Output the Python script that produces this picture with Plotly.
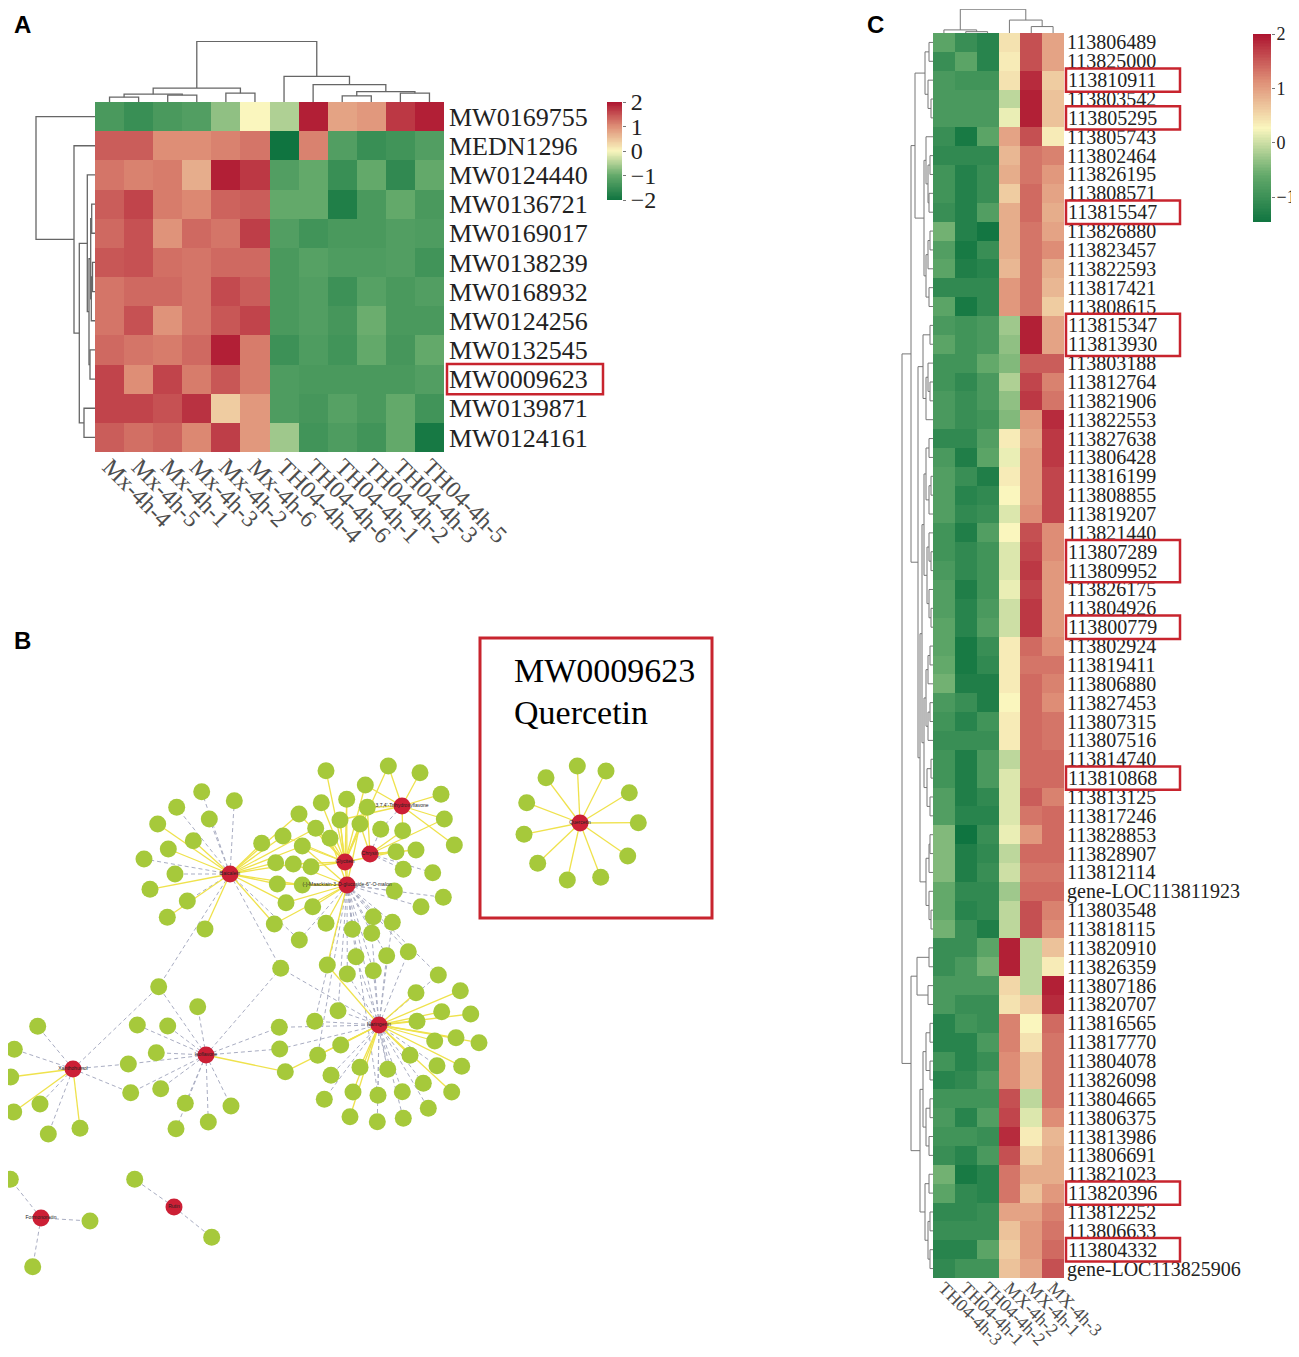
import plotly.graph_objects as go

# page body keeps its default 8px margin, so the figure is placed from (8, 8)
PAGE_PAD = 8
W, H = 1299 - PAGE_PAD, 1357 - PAGE_PAD


def fx(px):
    return (px - PAGE_PAD) / W


def fy(py):
    return 1 - (py - PAGE_PAD) / H


serif = "Liberation Serif"
box_red = "#c8242e"
heat_scale = [
    [0.0, "#0f7440"],
    [0.25, "#63a96a"],
    [0.5, "#faf6be"],
    [0.75, "#de8e76"],
    [1.0, "#ad132f"],
]

# ------------------------------
# Panel A data
# ------------------------------
a_cols = ["Mx-4h-4", "Mx-4h-5", "Mx-4h-1", "Mx-4h-3", "Mx-4h-2", "Mx-4h-6",
          "TH04-4h-4", "TH04-4h-6", "TH04-4h-1", "TH04-4h-2", "TH04-4h-3", "TH04-4h-5"]
a_rows = ["MW0169755", "MEDN1296", "MW0124440", "MW0136721", "MW0169017", "MW0138239",
          "MW0168932", "MW0124256", "MW0132545", "MW0009623", "MW0139871", "MW0124161"]
a_values = [
    [-1.3, -1.5, -1.3, -1.2, -0.7, 0.0, -0.5, 1.9, 0.8, 0.9, 1.7, 1.9],
    [1.4, 1.4, 1.0, 1.0, 1.1, 1.2, -2.0, 1.1, -1.2, -1.5, -1.4, -1.2],
    [1.2, 1.1, 1.15, 0.7, 1.9, 1.7, -1.2, -1.0, -1.5, -1.0, -1.6, -1.0],
    [1.4, 1.6, 1.15, 1.05, 1.35, 1.4, -1.0, -1.0, -1.8, -1.3, -1.0, -1.3],
    [1.3, 1.5, 0.95, 1.3, 1.2, 1.65, -1.2, -1.4, -1.3, -1.3, -1.2, -1.25],
    [1.45, 1.5, 1.25, 1.2, 1.3, 1.3, -1.3, -1.15, -1.25, -1.25, -1.2, -1.4],
    [1.2, 1.3, 1.3, 1.2, 1.55, 1.4, -1.3, -1.2, -1.45, -1.15, -1.3, -1.2],
    [1.2, 1.5, 0.95, 1.2, 1.45, 1.6, -1.3, -1.2, -1.35, -0.95, -1.3, -1.3],
    [1.3, 1.2, 1.15, 1.3, 1.9, 1.15, -1.45, -1.25, -1.4, -1.0, -1.35, -1.0],
    [1.6, 1.0, 1.6, 1.15, 1.45, 1.15, -1.25, -1.3, -1.3, -1.3, -1.3, -1.2],
    [1.6, 1.6, 1.5, 1.75, 0.4, 0.9, -1.25, -1.35, -1.15, -1.3, -1.0, -1.4],
    [1.4, 1.25, 1.35, 1.05, 1.65, 0.9, -0.6, -1.4, -1.25, -1.4, -1.0, -1.9],
]
a_zmin, a_zmax = -2.0, 2.0
a_bar_ticks = [-2, -1, 0, 1, 2]
a_highlight = ["MW0009623"]

# dendrograms: leaf = index, node = (left, right, height)
a_col_tree = (
    ((((0, 1, 4.7), (2, 3, 6.7), 7.7), (4, 5, 8.7), 13.7),
     (6, (7, ((8, 9, 6.0), (10, 11, 8.7), 10.3), 17.0), 25.3),
     59.7)
)
a_r37 = ((3, 4, 3.3), ((5, 6, 2.5), 7, 3.7), 4.3)
a_r39 = (a_r37, (8, 9, 5.0), 6.0)
a_row_tree = (0, (1, ((2, a_r39, 7.7), (10, 11, 11.0), 15.7), 21.0), 59.0)

# ------------------------------
# Panel C data
# ------------------------------
c_cols = ["TH04-4h-3", "TH04-4h-1", "TH04-4h-2", "MX-4h-2", "MX-4h-1", "MX-4h-3"]
c_rows = [
    "113806489", "113825000", "113810911", "113803542", "113805295", "113805743",
    "113802464", "113826195", "113808571", "113815547", "113826880", "113823457",
    "113822593", "113817421", "113808615", "113815347", "113813930", "113803188",
    "113812764", "113821906", "113822553", "113827638", "113806428", "113816199",
    "113808855", "113819207", "113821440", "113807289", "113809952", "113826175",
    "113804926", "113800779", "113802924", "113819411", "113806880", "113827453",
    "113807315", "113807516", "113814740", "113810868", "113813125", "113817246",
    "113828853", "113828907", "113812114", "gene-LOC113811923", "113803548", "113818115",
    "113820910", "113826359", "113807186", "113820707", "113816565", "113817770",
    "113804078", "113826098", "113804665", "113806375", "113813986", "113806691",
    "113821023", "113820396", "113812252", "113806633", "113804332", "gene-LOC113825906",
]
c_values = [
    [-0.68, -1.03, -1.2, 0.44, 1.57, 0.96],
    [-1.03, -0.68, -1.2, 0.36, 1.57, 0.96],
    [-0.85, -0.94, -0.94, 0.44, 1.83, 0.62],
    [-0.85, -0.85, -0.85, -0.08, 1.91, 0.7],
    [-0.85, -0.85, -0.85, 0.18, 1.91, 0.7],
    [-1.03, -1.37, -0.68, 0.96, 1.57, 0.36],
    [-1.11, -1.11, -1.11, 0.79, 1.31, 1.22],
    [-0.94, -1.24, -1.03, 0.88, 1.31, 1.05],
    [-0.94, -1.24, -1.03, 0.62, 1.39, 0.96],
    [-1.03, -1.24, -0.77, 0.88, 1.39, 0.88],
    [-0.51, -1.24, -1.42, 0.88, 1.31, 0.96],
    [-0.77, -1.37, -1.03, 0.88, 1.31, 1.14],
    [-0.68, -1.29, -1.2, 0.79, 1.31, 0.88],
    [-1.11, -1.11, -1.11, 1.05, 1.31, 0.79],
    [-0.68, -1.37, -1.11, 1.05, 1.31, 0.62],
    [-0.85, -0.94, -0.85, -0.25, 1.91, 0.96],
    [-0.68, -0.94, -0.85, -0.34, 1.91, 0.96],
    [-0.94, -0.94, -0.6, -0.42, 1.48, 1.48],
    [-0.94, -1.11, -0.85, -0.16, 1.65, 1.22],
    [-0.85, -1.03, -0.85, -0.34, 1.74, 1.31],
    [-0.85, -1.03, -0.94, -0.42, 1.05, 1.83],
    [-1.11, -1.11, -0.77, 0.36, 0.96, 1.74],
    [-0.85, -1.29, -0.68, 0.18, 1.05, 1.74],
    [-0.77, -1.03, -1.29, 0.36, 1.05, 1.65],
    [-0.77, -1.2, -1.11, 0.27, 1.05, 1.65],
    [-0.77, -1.11, -1.03, 0.1, 1.14, 1.65],
    [-0.94, -1.29, -0.77, 0.27, 1.57, 1.14],
    [-0.94, -1.11, -0.94, 0.1, 1.65, 1.14],
    [-0.85, -1.11, -0.94, 0.1, 1.74, 1.05],
    [-0.77, -1.29, -0.94, 0.18, 1.65, 1.05],
    [-0.77, -1.2, -0.85, 0.01, 1.74, 1.05],
    [-0.68, -1.2, -0.77, 0.01, 1.74, 1.05],
    [-0.68, -1.37, -1.03, 0.36, 1.39, 1.14],
    [-0.6, -1.37, -1.11, 0.36, 1.31, 1.31],
    [-0.51, -1.29, -1.29, 0.36, 1.39, 1.22],
    [-0.85, -1.03, -1.29, 0.27, 1.39, 1.14],
    [-0.94, -1.2, -0.94, 0.36, 1.39, 1.31],
    [-1.03, -1.03, -1.03, 0.36, 1.39, 1.31],
    [-0.94, -1.29, -0.85, -0.08, 1.39, 1.39],
    [-0.94, -1.29, -0.85, 0.1, 1.39, 1.39],
    [-0.77, -1.29, -1.11, 0.1, 1.48, 1.22],
    [-0.77, -1.2, -1.2, 0.1, 1.31, 1.39],
    [-0.42, -1.46, -1.03, 0.18, 1.05, 1.39],
    [-0.42, -1.29, -1.11, -0.08, 1.39, 1.39],
    [-0.42, -1.29, -1.03, 0.01, 1.31, 1.31],
    [-0.6, -1.11, -1.11, -0.25, 1.39, 1.39],
    [-0.6, -1.2, -1.11, -0.08, 1.57, 1.22],
    [-0.51, -1.03, -1.29, -0.08, 1.57, 1.14],
    [-1.03, -1.03, -0.68, 1.91, -0.08, 0.7],
    [-1.03, -0.85, -0.51, 1.91, -0.08, 0.36],
    [-0.85, -0.85, -0.85, 0.53, -0.08, 1.91],
    [-0.85, -1.03, -1.03, 0.44, 0.62, 1.83],
    [-1.2, -0.94, -1.03, 1.22, 0.27, 1.39],
    [-1.2, -1.2, -0.85, 1.22, 0.44, 1.31],
    [-0.94, -1.2, -1.03, 1.14, 0.7, 1.31],
    [-1.2, -1.11, -0.85, 1.14, 0.7, 1.31],
    [-0.94, -0.94, -0.94, 1.57, -0.08, 1.31],
    [-0.85, -1.2, -0.77, 1.65, 0.1, 1.14],
    [-0.94, -0.94, -1.03, 1.83, 0.36, 0.79],
    [-1.03, -1.2, -0.85, 1.57, 0.62, 0.88],
    [-0.51, -1.37, -1.2, 1.31, 0.88, 0.88],
    [-0.68, -1.11, -1.2, 1.31, 0.7, 1.05],
    [-1.11, -1.11, -1.03, 0.96, 0.96, 1.22],
    [-1.03, -1.03, -1.03, 0.7, 1.05, 1.31],
    [-1.2, -1.2, -0.68, 0.62, 1.05, 1.39],
    [-1.11, -0.94, -0.94, 0.7, 0.96, 1.57],
]
c_zmin, c_zmax = -1.46, 2.0
c_bar_ticks = [-1, 0, 1, 2]
# boxed gene labels: (first row, last row)
c_boxes = [(2, 2), (4, 4), (9, 9), (15, 16), (27, 28), (31, 31), (39, 39), (61, 61), (64, 64)]

c_col_tree = ((0, (1, 2, 1.7), 4.0), (3, (4, 5, 8.3), 16.7), 30.7)

c_t1 = ((0, 1, 4), (2, (3, 4, 2), 5), 8)
c_t2 = ((5, ((6, 7, 3), (8, 9, 4), 5), 7), (((10, 11, 3), 12, 5), (13, 14, 4), 7), 9)
c_t3 = ((15, 16, 3), ((17, (18, 19, 3), 5), 20, 7), 10)
c_t5 = ((21, 22, 4), ((23, 24, 2), 25, 4), 7)
c_t6 = ((26, (27, 28, 2), 4), (29, (30, 31, 2), 4), 6)
c_t7 = (((32, 33, 3), 34, 5), ((35, 36, 3), 37, 5), 7)
c_t8 = ((38, 39, 2), (40, 41, 3), 6)
c_t9 = (((42, 43, 3), 44, 4), (45, (46, 47, 2), 4), 7)
c_top = ((c_t1, c_t2, 18), (c_t3, (((c_t5, c_t6, 9), (c_t7, c_t8, 9), 11), c_t9, 13), 15), 22)
c_b1 = ((48, 49, 4), (50, 51, 5), 16)
c_b2 = (((52, 53, 3), (54, 55, 3), 7), ((56, 57, 3), (58, 59, 4), 7), 10)
c_b3 = ((60, 61, 4), ((62, 63, 3), (64, 65, 3), 5), 8)
c_row_tree = (c_top, (c_b1, (c_b2, c_b3, 13), 22), 31)

# ------------------------------
# Panel B data (network, positions in panel pixels)
# ------------------------------
hub_names = ["Baicalein", "Glycitein", "Chrysin", "3,7,4'-Trihydroxyflavone",
             "(-)-Maackiain-3-O-glucoside-6''-O-malon", "Naringenin", "Isoflavone",
             "Xanthohumol", "Formononetin", "Rutin", "Quercetin"]
hub_x = [230, 345, 370, 402, 347, 379, 206, 73, 41, 174, 580]
hub_y = [874, 862, 854, 806, 885, 1025, 1055, 1069, 1218, 1207, 823]

leaf_x = [201.7, 234.3, 176.7, 209.3, 157.7, 193.3, 168.3, 144, 175, 150, 187.3, 167.3, 205,
          388.3, 420, 441, 444.3, 365.3, 367.3, 402.7, 454.3, 380.7,
          326, 346.7, 321.3, 299, 340, 360, 315.7, 330, 283, 302.3, 311, 293.3, 261.7, 275.7,
          396, 416, 403.3, 432.7,
          302.3, 277.3, 286, 312.7, 274.3, 326, 352.3, 371.7, 373.3, 392.3, 394.3, 421, 443.3,
          299.3, 356, 386.7, 408.3, 327.3, 347.3, 373.3, 438.3,
          460.3, 416, 338, 441.7, 470.7, 314.7, 417, 279.3, 456, 434.7, 479, 340.7, 317.7, 410,
          437, 461.7, 360, 387.7, 331, 423.3, 451.7, 353, 378, 402.3, 324.3, 428.3, 350, 377.3, 403.3,
          197.7, 137.3, 167.7, 156.3, 160.7, 185.3, 231, 208.3, 176, 279.7, 285.3,
          37.7, 14.3, 10.7, 40, 13.7, 48.3, 80, 128.3, 130.7,
          158.7, 280.7,
          10.3, 90, 32.7,
          134.7, 211.7,
          577.3, 606, 546, 629.3, 526.7, 638.3, 524, 627.7, 537.7, 567.3, 600.7]
leaf_y = [791.7, 800.7, 807.3, 819, 824, 840.7, 849, 859, 874, 889.3, 901, 917.3, 929,
          766, 772.7, 794.3, 819, 785, 807.3, 830.7, 845, 829.3,
          770.7, 799.3, 802.7, 814, 820, 824, 828.3, 838.3, 836, 846, 866.7, 864, 843.3, 862.7,
          851.7, 850, 869.3, 872.7,
          885, 884, 902.7, 906.7, 924, 923.3, 929.3, 933.3, 916.7, 922.3, 891, 906.7, 897.3,
          940, 956.7, 955.7, 951.7, 965, 974, 970.7, 975,
          990.7, 992.7, 1010.7, 1011.7, 1014, 1021.3, 1021.3, 1027.3, 1037.7, 1041, 1042.7, 1045,
          1055.3, 1055.3, 1065.7, 1066.3, 1067.3, 1069.3, 1075.3, 1083.3, 1092, 1092, 1095.3,
          1091.7, 1099.3, 1108.3, 1116.7, 1121.7, 1118.3,
          1006.7, 1025, 1026, 1052.7, 1088.7, 1103.3, 1106, 1122, 1128.7, 1049, 1071.7,
          1026.3, 1049.3, 1077, 1104, 1112, 1134, 1128.3, 1064, 1092.7,
          986.7, 968.3,
          1179.3, 1221, 1266.7,
          1179.3, 1237.3,
          766, 771, 777.7, 792.7, 802.7, 822.7, 834.3, 856, 863.3, 880, 877.3]
leaf_hub = [0] * 13 + [3] * 9 + [1] * 12 + [0, 0] + [2] * 4 + [4] * 21 + [5] * 29 + [6] * 11 \
    + [7] * 9 + [7, 0] + [8] * 3 + [9] * 2 + [10] * 11
leaf_solid = [0, 0, 0, 0, 1, 1, 1, 0, 0, 1, 0, 1, 1,
              1, 1, 1, 1, 1, 1, 1, 1, 0,
              1, 1, 1, 1, 1, 1, 1, 1, 1, 1, 1, 1, 1, 1,
              1, 1, 0, 0,
              1, 1, 1, 1, 1, 1, 0, 0, 0, 0, 0, 0, 0, 0, 0, 0, 0, 1, 0, 0, 0,
              1, 1, 0, 1, 1, 0, 1, 0, 1, 1, 1, 1, 1, 1, 0, 1, 1, 0, 0, 0, 1, 1, 0, 0, 0, 0, 1, 0, 0,
              0, 0, 0, 0, 0, 0, 0, 0, 0, 0, 1,
              0, 0, 1, 0, 1, 0, 1, 0, 0,
              0, 0,
              0, 0, 0,
              0, 0,
              1, 1, 1, 1, 1, 1, 1, 1, 1, 1, 1]
# extra links (hub, leaf, solid)
extra_edges = [
    (0, 30, 1), (0, 31, 1), (0, 33, 1), (0, 40, 1), (0, 41, 1), (0, 42, 1), (0, 44, 1),
    (0, 25, 1), (0, 28, 1), (0, 110, 0), (0, 53, 0),
    (4, 29, 1), (4, 31, 1), (4, 33, 1), (4, 27, 1), (4, 26, 1), (4, 23, 1), (4, 63, 0),
    (4, 66, 0), (4, 73, 0), (4, 78, 0), (4, 83, 0),
    (5, 54, 0), (5, 55, 0), (5, 56, 0), (5, 57, 1), (5, 58, 0), (5, 59, 0), (5, 60, 0),
    (5, 47, 0), (5, 49, 0), (5, 111, 0), (5, 99, 0), (5, 100, 1),
    (1, 13, 1), (1, 17, 1), (1, 18, 1), (2, 18, 1), (2, 19, 1), (2, 21, 0), (2, 27, 1),
    (2, 16, 1), (3, 26, 1), (1, 36, 1),
    (6, 110, 0), (6, 111, 0), (6, 68, 0), (6, 108, 0), (6, 109, 0),
]

# ------------------------------
# helpers
# ------------------------------


def dendro_xy(tree):
    pos, hts = [], []

    def walk(node):
        if isinstance(node, int):
            return node, 0.0
        left, right, h = node
        lp, lh = walk(left)
        rp, rh = walk(right)
        pos.extend([lp, lp, rp, rp, None])
        hts.extend([lh, h, h, rh, None])
        return (lp + rp) / 2, h

    walk(tree)
    return pos, hts


def bar_levels(lo, hi, n=120):
    # colour ramp for a hand-built colour key
    return [lo + (hi - lo) * i / n for i in range(n + 1)]


def minus(v):
    return str(v).replace("-", "\u2212")


fig = go.Figure()

# ---- Panel A heatmap
fig.add_trace(go.Heatmap(
    z=a_values, x=list(range(len(a_cols))), y=list(range(len(a_rows))),
    colorscale=heat_scale, zmin=a_zmin, zmax=a_zmax, xaxis="x", yaxis="y",
    showscale=False, hoverinfo="skip",
))
lv = bar_levels(a_zmin, a_zmax)
fig.add_trace(go.Heatmap(
    z=[[v] for v in lv], x=[0], y=lv, colorscale=heat_scale, zmin=a_zmin, zmax=a_zmax,
    xaxis="x8", yaxis="y8", showscale=False, hoverinfo="skip",
))

pos, hts = dendro_xy(a_col_tree)
fig.add_trace(go.Scatter(x=pos, y=hts, mode="lines", xaxis="x2", yaxis="y2",
                         line=dict(color="#666", width=1.3), hoverinfo="skip", showlegend=False))
pos, hts = dendro_xy(a_row_tree)
fig.add_trace(go.Scatter(x=hts, y=pos, mode="lines", xaxis="x3", yaxis="y3",
                         line=dict(color="#666", width=1.3), hoverinfo="skip", showlegend=False))

# ---- Panel C heatmap
fig.add_trace(go.Heatmap(
    z=c_values, x=list(range(len(c_cols))), y=list(range(len(c_rows))),
    colorscale=heat_scale, zmin=c_zmin, zmax=c_zmax, xaxis="x5", yaxis="y5",
    showscale=False, hoverinfo="skip",
))
lv = bar_levels(c_zmin, c_zmax)
fig.add_trace(go.Heatmap(
    z=[[v] for v in lv], x=[0], y=lv, colorscale=heat_scale, zmin=c_zmin, zmax=c_zmax,
    xaxis="x9", yaxis="y9", showscale=False, hoverinfo="skip",
))

pos, hts = dendro_xy(c_col_tree)
fig.add_trace(go.Scatter(x=pos, y=hts, mode="lines", xaxis="x6", yaxis="y6",
                         line=dict(color="#777", width=1), hoverinfo="skip", showlegend=False))
pos, hts = dendro_xy(c_row_tree)
fig.add_trace(go.Scatter(x=hts, y=pos, mode="lines", xaxis="x7", yaxis="y7",
                         line=dict(color="#777", width=1), hoverinfo="skip", showlegend=False))

# ---- Panel B network
edges = [(leaf_hub[i], i, leaf_solid[i]) for i in range(len(leaf_x))] + extra_edges
sx, sy, dx, dy = [], [], [], []
for hub, leaf, solid in edges:
    xs = [hub_x[hub], leaf_x[leaf], None]
    ys = [hub_y[hub], leaf_y[leaf], None]
    if solid:
        sx += xs
        sy += ys
    else:
        dx += xs
        dy += ys
fig.add_trace(go.Scatter(x=dx, y=dy, mode="lines", xaxis="x4", yaxis="y4",
                         line=dict(color="#a9adc2", width=1, dash="4px,3px"),
                         hoverinfo="skip", showlegend=False))
fig.add_trace(go.Scatter(x=sx, y=sy, mode="lines", xaxis="x4", yaxis="y4",
                         line=dict(color="#efe24c", width=1.3),
                         hoverinfo="skip", showlegend=False))
fig.add_trace(go.Scatter(x=leaf_x, y=leaf_y, mode="markers", xaxis="x4", yaxis="y4",
                         marker=dict(size=17, color="#a6c93b", line=dict(width=0)),
                         cliponaxis=False, hoverinfo="skip", showlegend=False))
fig.add_trace(go.Scatter(x=hub_x, y=hub_y, mode="markers+text", xaxis="x4", yaxis="y4",
                         text=hub_names, textposition="middle center",
                         textfont=dict(family="Arial", size=5, color="#222"),
                         marker=dict(size=17, color="#cc1f35", line=dict(width=0)),
                         cliponaxis=False, hoverinfo="skip", showlegend=False))

# ------------------------------
# Layout
# ------------------------------
hidden = dict(visible=False, showgrid=False, zeroline=False, automargin=False)
plain = dict(showline=False, showgrid=False, zeroline=False, automargin=False, ticks="")
a_xdom = [fx(95), fx(444)]
a_ydom = [fy(452), fy(102)]
c_xdom = [fx(933), fx(1064)]
c_ydom = [fy(1278), fy(33)]
key_tick = dict(ticks="outside", ticklen=3, tickcolor="#777", showline=False,
                showgrid=False, zeroline=False, automargin=False, side="right")

fig.update_layout(
    width=W, height=H,
    margin=dict(l=0, r=0, t=0, b=0, autoexpand=False),
    paper_bgcolor="white", plot_bgcolor="white",
    showlegend=False,
    # A heatmap
    xaxis=dict(domain=a_xdom, anchor="y", range=[-0.5, len(a_cols) - 0.5], tickmode="array",
               tickvals=list(range(len(a_cols))), ticktext=a_cols, tickangle=45,
               ticklabelstandoff=-5,
               tickfont=dict(family=serif, size=24, color="#4d4d4d"), **plain),
    yaxis=dict(domain=a_ydom, anchor="x", range=[len(a_rows) - 0.5, -0.5], side="right",
               tickmode="array", tickvals=list(range(len(a_rows))), ticktext=a_rows,
               ticklabelstandoff=4,
               tickfont=dict(family=serif, size=26, color="#222"), **plain),
    # A dendrograms
    xaxis2=dict(domain=a_xdom, anchor="y2", range=[-0.5, len(a_cols) - 0.5], **hidden),
    yaxis2=dict(domain=[fy(102), fy(41)], anchor="x2", range=[0, 60], **hidden),
    xaxis3=dict(domain=[fx(35), fx(95)], anchor="y3", range=[60, 0], **hidden),
    yaxis3=dict(domain=a_ydom, anchor="x3", range=[len(a_rows) - 0.5, -0.5], **hidden),
    # B network
    xaxis4=dict(domain=[fx(8), fx(720)], anchor="y4", range=[8, 720], **hidden),
    yaxis4=dict(domain=[fy(1290), fy(630)], anchor="x4", range=[1290, 630], **hidden),
    # C heatmap
    xaxis5=dict(domain=c_xdom, anchor="y5", range=[-0.5, len(c_cols) - 0.5], tickmode="array",
                tickvals=list(range(len(c_cols))), ticktext=c_cols, tickangle=45,
                ticklabelstandoff=-5,
                tickfont=dict(family=serif, size=18, color="#4d4d4d"), **plain),
    yaxis5=dict(domain=c_ydom, anchor="x5", range=[len(c_rows) - 0.5, -0.5], side="right",
                tickmode="array", tickvals=list(range(len(c_rows))), ticktext=c_rows,
                ticklabelstandoff=2,
                tickfont=dict(family=serif, size=20, color="#222"), **plain),
    # C dendrograms
    xaxis6=dict(domain=c_xdom, anchor="y6", range=[-0.5, len(c_cols) - 0.5], **hidden),
    yaxis6=dict(domain=[fy(33), fy(9)], anchor="x6", range=[0, 31], **hidden),
    xaxis7=dict(domain=[fx(901), fx(933)], anchor="y7", range=[32, 0], **hidden),
    yaxis7=dict(domain=c_ydom, anchor="x7", range=[len(c_rows) - 0.5, -0.5], **hidden),
    # colour keys
    xaxis8=dict(domain=[fx(607), fx(622)], anchor="y8", range=[-0.5, 0.5], **hidden),
    yaxis8=dict(domain=[fy(200), fy(102)], anchor="x8", range=[a_zmin, a_zmax],
                tickmode="array", tickvals=a_bar_ticks,
                ticktext=[minus(v) for v in a_bar_ticks],
                tickfont=dict(family=serif, size=24, color="#222"), **key_tick),
    xaxis9=dict(domain=[fx(1253), fx(1271)], anchor="y9", range=[-0.5, 0.5], **hidden),
    yaxis9=dict(domain=[fy(222), fy(34)], anchor="x9", range=[c_zmin, c_zmax],
                tickmode="array", tickvals=c_bar_ticks,
                ticktext=[minus(v) for v in c_bar_ticks], ticklabelstandoff=-2,
                tickfont=dict(family=serif, size=18, color="#222"), **key_tick),
)

# highlight boxes
shapes = []
annotations = []
for name in a_highlight:
    r = a_rows.index(name)
    shapes.append(dict(type="rect", xref="paper", yref="y", x0=fx(447), x1=fx(603),
                       y0=r - 0.52, y1=r + 0.52, line=dict(color=box_red, width=2.5)))
# C boxes are filled white, so they mask the neighbouring labels; the boxed
# labels are written again on top of them
for r0, r1 in c_boxes:
    shapes.append(dict(type="rect", xref="paper", yref="y5", x0=fx(1066), x1=fx(1180),
                       y0=r0 - 0.62, y1=r1 + 0.62, layer="above", fillcolor="white",
                       line=dict(color=box_red, width=2.5)))
    for r in range(r0, r1 + 1):
        annotations.append(dict(text=c_rows[r], x=fx(1066), y=r, xref="paper", yref="y5",
                                xanchor="left", yanchor="middle", showarrow=False,
                                font=dict(family=serif, size=20, color="#222")))
# Quercetin inset frame (panel B coordinates)
shapes.append(dict(type="rect", xref="x4", yref="y4", x0=480, x1=712, y0=638, y1=918,
                   line=dict(color=box_red, width=3)))
fig.update_layout(shapes=shapes)

for letter, lx, ly in [("A", 12, 25), ("B", 12, 640), ("C", 865, 25)]:
    annotations.append(dict(text="<b>%s</b>" % letter, x=fx(lx), y=fy(ly), xref="paper",
                            yref="paper", xanchor="left", yanchor="middle", showarrow=False,
                            font=dict(family="Arial", size=24, color="black")))
annotations += [
    dict(text="MW0009623", x=512, y=670, xref="x4", yref="y4", xanchor="left",
         yanchor="middle", showarrow=False, font=dict(family=serif, size=34, color="black")),
    dict(text="Quercetin", x=512, y=712, xref="x4", yref="y4", xanchor="left",
         yanchor="middle", showarrow=False, font=dict(family=serif, size=34, color="black")),
]
fig.update_layout(annotations=annotations)

fig.write_html("out.html")
